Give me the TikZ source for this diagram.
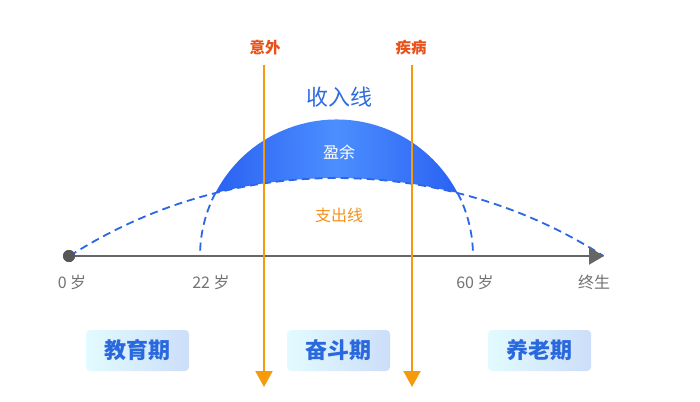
\documentclass[tikz,border=0pt]{standalone}
\usepackage{fontspec}
\setmainfont{Noto Sans CJK SC}
\newfontfamily\cjk{Noto Sans CJK SC}
\usetikzlibrary{arrows.meta,shapes.geometric}
\definecolor{axisgray}{HTML}{666666}
\definecolor{labgray}{HTML}{737373}
\definecolor{dashblue}{HTML}{2A66E8}
\definecolor{domeA}{HTML}{2A62F2}
\definecolor{domeB}{HTML}{4C8EFF}
\definecolor{riskorange}{HTML}{F59A0C}
\definecolor{risktext}{HTML}{E8521A}
\definecolor{spendorange}{HTML}{F5921E}
\definecolor{titleblue}{HTML}{2F6BE0}
\definecolor{boxL}{HTML}{E2FBFE}
\definecolor{boxR}{HTML}{CCDEF9}
\definecolor{boxtext}{HTML}{2A68DE}
\tikzset{
  dashcurve/.style={draw=dashblue, line width=1.8pt, dash pattern=on 8pt off 5pt},
  riskline/.style={draw=riskorange, line width=2pt, -{Triangle[length=16pt,width=17pt]}},
  risklabel/.style={text=risktext, font=\cjk\fontsize{15.5}{17}\selectfont\bfseries},
  agelabel/.style={text=labgray, font=\cjk\fontsize{16}{18}\selectfont},
  periodbox/.style={rounded corners=4pt, minimum width=103pt, minimum height=41pt,
    left color=boxL, right color=boxR, text=boxtext, inner sep=0pt,
    font=\cjk\fontsize{22}{24}\selectfont\bfseries},
}
\begin{document}
\begin{tikzpicture}[x=1pt,y=1pt]
\useasboundingbox[fill=white] (0,0) rectangle (700,-401);
% dome (surplus)
\shade[left color=domeA, right color=domeA, middle color=domeB]
  (336.5,-256) ++(152.52:136.5pt) arc[start angle=152.52, end angle=27.48, radius=136.5pt]
  arc[start angle=75.87, end angle=104.13, radius=496pt] -- cycle;
% expense line (dashed)
\draw[dashcurve] (336.5,-674) ++(122.57:496pt) arc[start angle=122.57, end angle=57.43, radius=496pt];
% income line lower dashed parts
\draw[dashcurve] (336.5,-256) ++(152.52:136.5pt) arc[start angle=152.52, end angle=180, radius=136.5pt];
\draw[dashcurve] (336.5,-256) ++(27.48:136.5pt) arc[start angle=27.48, end angle=0, radius=136.5pt];
% axis
\node[circle, fill=axisgray!85!black, minimum size=12pt, inner sep=0pt] (o) at (69,-256) {};
\coordinate (tip) at (604,-256);
\draw[axisgray, line width=2pt, -{Triangle[length=15pt,width=17pt]}] (o.center) -- (tip);
\node[circle, fill=axisgray!85!black, minimum size=12pt, inner sep=0pt] at (o) {};
% axis labels
\node[agelabel] (l0) at (72,-282) {0 岁};
\node[agelabel] (l22) at (211,-282) {22 岁};
\node[agelabel] (l60) at (475,-282) {60 岁};
\node[agelabel] (lend) at (594,-282) {终生};
% texts
\node[text=titleblue, font=\cjk\fontsize{22}{24}\selectfont] (income) at (339,-97) {收入线};
\node[text=white, font=\cjk\fontsize{16}{18}\selectfont] (surplus) at (339,-152) {盈余};
\node[text=spendorange, font=\cjk\fontsize{16}{18}\selectfont] (spend) at (339,-215) {支出线};
% risk arrows
\node[risklabel] (acc) at (265,-48) {意外};
\node[risklabel] (ill) at (411,-48) {疾病};
\coordinate (accTop) at (264,-65);
\coordinate (accBot) at (264,-387);
\coordinate (illTop) at (412,-65);
\coordinate (illBot) at (412,-387);
\draw[riskline] (accTop) -- (accBot);
\draw[riskline] (illTop) -- (illBot);
% period boxes
\node[periodbox] (edu) at (137.5,-350.5) {教育期};
\node[periodbox] (work) at (338.5,-350.5) {奋斗期};
\node[periodbox] (old) at (539.5,-350.5) {养老期};
\end{tikzpicture}
\end{document}
